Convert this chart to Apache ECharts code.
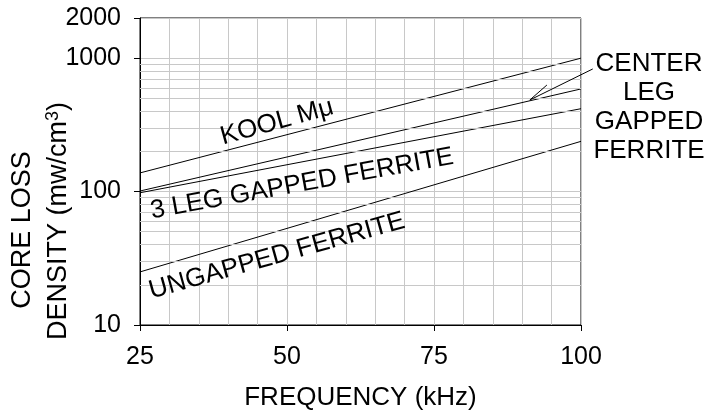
<!DOCTYPE html>
<html>
<head>
<meta charset="utf-8">
<script src="https://cdn.jsdelivr.net/npm/echarts@6/dist/echarts.min.js"></script>
<style>
  html, body { margin: 0; padding: 0; background: #fff; }
  #chart { width: 712px; height: 415px; }
</style>
</head>
<body>
<div id="chart"></div>
<script>
// 端点数据（对数纵轴上为直线）
const freq = [25, 100]
const koolMu = [138, 1000]
const centerLeg = [101, 588]
const threeLeg = [98, 418]
const ungapped = [25, 238]

// 对数次网格线 2..9 × 10^n
const yMinorGrid = [20, 30, 40, 50, 60, 70, 80, 90, 200, 300, 400, 500, 600, 700, 800, 900]

// 箭头注释（数据坐标）
const arrowTail = [102, 830]
const arrowTip = [91.3, 486]
const arrowBarb = [94.2, 629]

const FONT = 'Liberation Sans, Arial, sans-serif'
const GRID_COLOR = '#c8c8c8'

const toPairs = (vals) => freq.map((f, i) => [f, vals[i]])

const lineSeries = (name, vals) => ({
  name,
  type: 'line',
  data: toPairs(vals),
  symbol: 'none',
  lineStyle: { color: '#000', width: 1 },
  z: 3,
})

const chart = echarts.init(document.getElementById('chart'))

const option = {
  animation: false,
  backgroundColor: '#fff',
  grid: {
    left: 140,
    right: 131,
    top: 18,
    bottom: 90,
    outerBoundsMode: 'none',
    containLabel: false,
    show: true,
    borderColor: '#000',
    borderWidth: 1,
  },
  xAxis: {
    type: 'value',
    min: 25,
    max: 100,
    interval: 25,
    axisLine: { lineStyle: { color: '#000', width: 1 } },
    axisTick: { length: 6, lineStyle: { color: '#000' } },
    axisLabel: { color: '#000', fontSize: 25, fontFamily: FONT, margin: 20 },
    splitLine: { show: true, lineStyle: { color: GRID_COLOR, width: 1 } },
    minorTick: { show: false, splitNumber: 5 },
    minorSplitLine: { show: true, lineStyle: { color: GRID_COLOR, width: 1 } },
    name: 'FREQUENCY (kHz)',
    nameLocation: 'middle',
    nameGap: 60,
    nameTextStyle: { color: '#000', fontSize: 26, fontFamily: FONT },
  },
  yAxis: {
    type: 'log',
    logBase: 10,
    min: 10,
    max: 2000,
    axisLine: { lineStyle: { color: '#000', width: 1 } },
    axisTick: { length: 6, lineStyle: { color: '#000' } },
    axisLabel: {
      color: '#000',
      fontSize: 25,
      fontFamily: FONT,
      margin: 19,
      formatter: (v) => String(v),
    },
    splitLine: { show: true, lineStyle: { color: GRID_COLOR, width: 1 } },
  },
  series: [
    {
      name: 'grid-minor',
      type: 'line',
      data: [],
      z: 1,
      silent: true,
      markLine: {
        silent: true,
        symbol: ['none', 'none'],
        label: { show: false },
        lineStyle: { color: GRID_COLOR, type: 'solid', width: 1 },
        data: yMinorGrid.map(v => ({ yAxis: v })),
      },
    },
    lineSeries('KOOL Mμ', koolMu),
    lineSeries('CENTER LEG GAPPED FERRITE', centerLeg),
    lineSeries('3 LEG GAPPED FERRITE', threeLeg),
    lineSeries('UNGAPPED FERRITE', ungapped),
  ],
}

chart.setOption(option)

// 注释：曲线标签、箭头、纵轴标题
const px = (p) => chart.convertToPixel({ gridIndex: 0 }, p)
const tail = px(arrowTail)
const tip = px(arrowTip)
const barb = px(arrowBarb)

const rotText = (text, x, y, deg, size) => ({
  type: 'text',
  x,
  y,
  rotation: deg * Math.PI / 180,
  style: {
    text,
    fill: '#000',
    font: `${size}px ${FONT}`,
    align: 'center',
    verticalAlign: 'middle',
  },
  z: 10,
})

chart.setOption({
  graphic: [
    rotText('KOOL Mμ', 277, 122, 15.5, 26),
    rotText('3 LEG GAPPED FERRITE', 302, 184, 10.3, 26),
    rotText('UNGAPPED FERRITE', 277, 256, 15.6, 26),
    {
      type: 'text',
      x: 649,
      y: 107,
      style: {
        text: 'CENTER\nLEG\nGAPPED\nFERRITE',
        fill: '#000',
        font: `26px ${FONT}`,
        lineHeight: 29,
        align: 'center',
        verticalAlign: 'middle',
      },
      z: 10,
    },
    {
      type: 'polyline',
      shape: { points: [tail, tip, barb] },
      style: { stroke: '#000', lineWidth: 1, fill: null },
      z: 10,
    },
    rotText('CORE LOSS', 23, 230, 90, 27),
    {
      type: 'text',
      x: 59,
      y: 221,
      rotation: Math.PI / 2,
      style: {
        text: '{a|DENSITY (mw/cm}{s|3}{a|)}',
        rich: {
          a: { fontSize: 27, fontFamily: FONT, fill: '#000' },
          s: { fontSize: 18, fontFamily: FONT, fill: '#000', verticalAlign: 'top', padding: [0, 0, 12, 0] },
        },
        align: 'center',
        verticalAlign: 'middle',
      },
      z: 10,
    },
  ],
})

window.addEventListener('resize', () => chart.resize())
</script>
</body>
</html>
